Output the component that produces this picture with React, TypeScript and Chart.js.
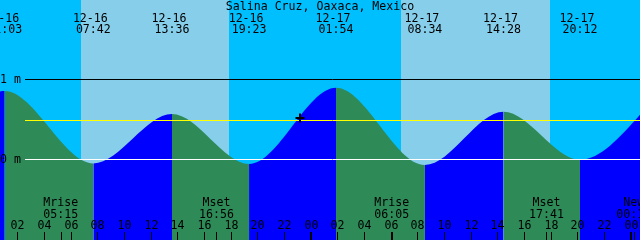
import React, { useEffect, useRef } from 'react';
import { Chart, registerables } from 'chart.js';

Chart.register(...registerables);

// ---------- data ----------
const title = 'Salina Cruz, Oaxaca, Mexico';
const baseDay = 16; // hours are counted from 12-16 00:00
const viewStart = 0.7;
const viewEnd = 48.7;
const levelMin = -1.0125;
const levelMax = 1.9875;

const tideTimes = ['12-15 18:42', '12-16 01:03', '12-16 07:42', '12-16 13:36', '12-16 19:23', '12-17 01:54', '12-17 08:34', '12-17 14:28', '12-17 20:12', '12-18 02:45'];
const tideLevels = [-0.05, 0.85, -0.055, 0.5625, -0.0625, 0.89, -0.075, 0.59, -0.01, 0.9];

const sunriseTimes = ['12-16 06:45', '12-17 06:45'];
const sunsetTimes = ['12-16 17:51', '12-17 17:55'];

const moonEvents = ['Mrise', 'Mset', 'Mrise', 'Mset', 'New'];
const moonTimes = ['12-16 05:15', '12-16 16:56', '12-17 06:05', '12-17 17:41', '12-18 00:14'];

const levelLines = [1, 0];
const levelLabels = ['1 m', '0 m'];
const mslLevel = 0.4875;

const nowTime = '12-16 23:10';
const nowLevel = 0.51;

const hourStep = 2;

// ---------- styles ----------
const DAY = '#87CEEB';
const NIGHT = '#00BFFF';
const RISE = '#0000FF';
const FALL = '#2E8B57';
const MSL = '#FFFF00';
const DATUM = '#FFFFFF';
const FG = '#000000';
const FONT = '11.6px "DejaVu Sans Mono", monospace';

const toHours = (s: string) => {
  const [d, t] = s.split(' ');
  const day = parseInt(d.split('-')[1], 10);
  const [hh, mm] = t.split(':').map((v) => parseInt(v, 10));
  return (day - baseDay) * 24 + hh + mm / 60;
};
const pad2 = (n: number) => (n < 10 ? '0' : '') + n;

const tidePlugin = {
  id: 'tideDecor',
  beforeDraw(chart: any) {
    const { ctx, chartArea } = chart;
    const x = chart.scales.x;
    const events: { t: number; day: boolean }[] = [];
    sunriseTimes.forEach((s) => events.push({ t: toHours(s), day: true }));
    sunsetTimes.forEach((s) => events.push({ t: toHours(s), day: false }));
    events.sort((a, b) => a.t - b.t);
    let state = events.length ? !events[0].day : false;
    let from = viewStart;
    ctx.save();
    const band = (a: number, b: number, day: boolean) => {
      const xa = Math.round(x.getPixelForValue(a));
      const xb = Math.round(x.getPixelForValue(b));
      ctx.fillStyle = day ? DAY : NIGHT;
      ctx.fillRect(xa, chartArea.top, xb - xa, chartArea.bottom - chartArea.top);
    };
    events.forEach((e) => {
      band(from, e.t, state);
      from = e.t;
      state = e.day;
    });
    band(from, viewEnd, state);
    ctx.restore();
  },
  afterDatasetsDraw(chart: any) {
    const { ctx, chartArea } = chart;
    const x = chart.scales.x;
    const y = chart.scales.y;
    ctx.save();
    const hline = (v: number, color: string, w: number) => {
      const py = Math.round(y.getPixelForValue(v)) + (w % 2 ? 0.5 : 0);
      ctx.strokeStyle = color;
      ctx.lineWidth = w;
      ctx.beginPath();
      ctx.moveTo(25, py);
      ctx.lineTo(chartArea.right, py);
      ctx.stroke();
    };
    levelLines.forEach((v) => hline(v, v === 0 ? DATUM : FG, 1));
    hline(mslLevel, MSL, 1);

    // now marker
    const nx = Math.round(x.getPixelForValue(toHours(nowTime)));
    const ny = Math.round(y.getPixelForValue(nowLevel));
    ctx.strokeStyle = FG;
    ctx.lineWidth = 2;
    ctx.beginPath();
    ctx.moveTo(nx - 4.5, ny);
    ctx.lineTo(nx + 4.5, ny);
    ctx.moveTo(nx, ny - 4.5);
    ctx.lineTo(nx, ny + 4.5);
    ctx.stroke();

    ctx.font = FONT;
    ctx.fillStyle = FG;
    ctx.textBaseline = 'alphabetic';

    // level labels
    ctx.textAlign = 'left';
    levelLines.forEach((v, i) => {
      ctx.fillText(levelLabels[i], 0, y.getPixelForValue(v) + 4.2);
    });

    // title
    ctx.textAlign = 'center';
    ctx.fillText(title, (chartArea.left + chartArea.right) / 2, 9.8);

    // tide extreme labels
    tideTimes.forEach((s) => {
      const px = x.getPixelForValue(toHours(s));
      const [d, t] = s.split(' ');
      ctx.fillText(d, px - 3, 21.5);
      ctx.fillText(t, px, 33.4);
    });

    // hour ticks
    const first = Math.ceil(viewStart / hourStep) * hourStep;
    for (let h = first; h <= viewEnd; h += hourStep) {
      const px = Math.round(x.getPixelForValue(h));
      const midnight = h % 24 === 0;
      ctx.fillRect(px - (midnight ? 1 : 0), 232, midnight ? 2 : 1, 8);
      ctx.fillText(pad2(h % 24), px + 0.5, 229.2);
    }

    // moon events
    moonEvents.forEach((name, i) => {
      const px = x.getPixelForValue(toHours(moonTimes[i]));
      ctx.fillRect(Math.round(px), 232, 1, 8);
      ctx.fillText(name, px, 206.2);
      ctx.fillText(moonTimes[i].split(' ')[1], px, 217.7);
    });
    ctx.restore();
  },
};

export default function App() {
  const ref = useRef<HTMLCanvasElement | null>(null);
  useEffect(() => {
    if (!ref.current) return;
    const points = tideTimes.map((s, i) => ({ x: toHours(s), y: tideLevels[i] }));
    const chart = new Chart(ref.current, {
      type: 'line',
      data: {
        datasets: [
          {
            data: points,
            fill: 'start',
            backgroundColor: FALL,
            borderColor: 'rgba(0,0,0,0)',
            borderWidth: 0,
            pointRadius: 0,
            cubicInterpolationMode: 'monotone',
            capBezierPoints: false,
            segment: {
              backgroundColor: (c: any) => (c.p1.parsed.y > c.p0.parsed.y ? RISE : FALL),
            },
          } as any,
        ],
      },
      options: {
        animation: false,
        responsive: false,
        devicePixelRatio: 1,
        events: [],
        layout: { padding: 0 },
        plugins: { legend: { display: false }, tooltip: { enabled: false }, title: { display: false } },
        scales: {
          x: { type: 'linear', min: viewStart, max: viewEnd, display: false },
          y: { type: 'linear', min: levelMin, max: levelMax, display: false },
        },
      },
      plugins: [tidePlugin],
    });
    return () => chart.destroy();
  }, []);
  return (
    <div style={{ position: 'absolute', left: 0, top: 0, width: 640, height: 240 }}>
      <canvas ref={ref} width={640} height={240} style={{ display: 'block', width: 640, height: 240 }} />
    </div>
  );
}
